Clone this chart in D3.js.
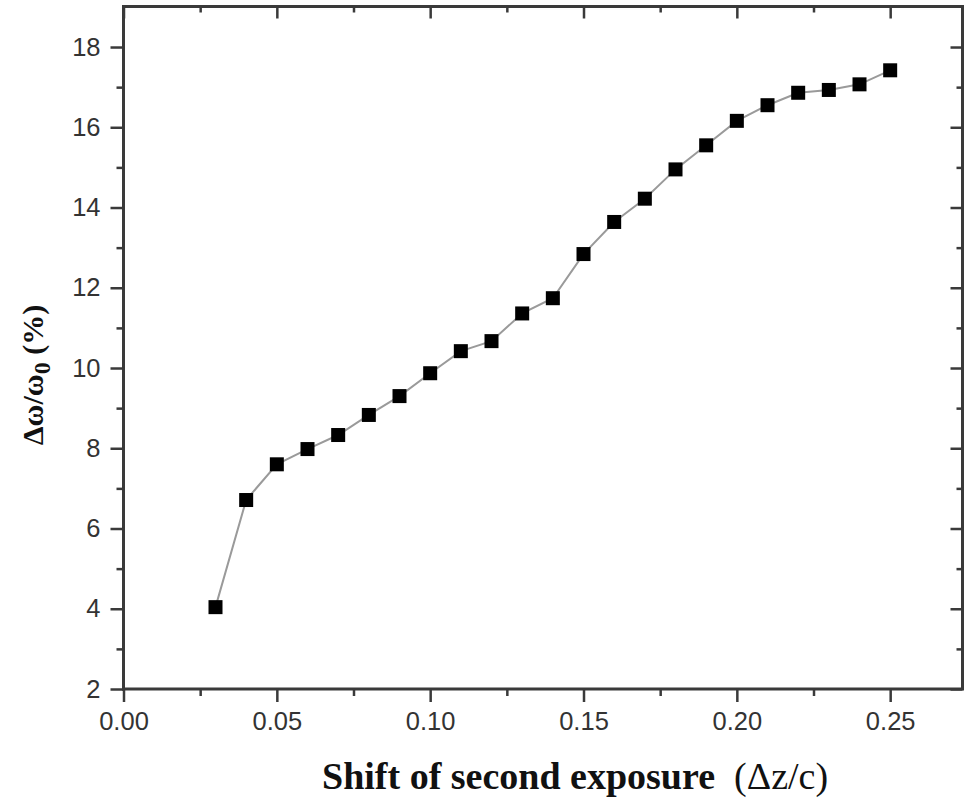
<!DOCTYPE html>
<html>
<head>
<meta charset="utf-8">
<script src="https://cdn.jsdelivr.net/npm/d3@7"></script>
<style>
  html, body { margin: 0; padding: 0; background: #fff; }
  svg { display: block; }
</style>
</head>
<body>
<svg id="chart" width="964" height="804"></svg>
<script>
// ---- data ----
const xValues = [0.03, 0.04, 0.05, 0.06, 0.07, 0.08, 0.09, 0.10, 0.11, 0.12, 0.13, 0.14,
                 0.15, 0.16, 0.17, 0.18, 0.19, 0.20, 0.21, 0.22, 0.23, 0.24, 0.25];
const yValues = [4.04, 6.71, 7.60, 7.98, 8.33, 8.83, 9.30, 9.87, 10.42, 10.67, 11.36, 11.74,
                 12.84, 13.64, 14.22, 14.95, 15.55, 16.16, 16.55, 16.86, 16.93, 17.07, 17.42];
const xTickValues = [0, 0.05, 0.10, 0.15, 0.20, 0.25];
const xMinorTicks = [0.025, 0.075, 0.125, 0.175, 0.225];
const yTickValues = [2, 4, 6, 8, 10, 12, 14, 16, 18];
const yMinorTicks = [3, 5, 7, 9, 11, 13, 15, 17];
const xDomain = [0, 0.2739];
const yDomain = [2, 19.01];

(function () {
const points = xValues.map((x, i) => ({x, y: yValues[i]}));

const svg = d3.select("#chart");
const mLeft = 123.5, mRight = 962.5, mTop = 6.5, mBottom = 689;

const x = d3.scaleLinear().domain(xDomain).range([mLeft, mLeft + (xDomain[1]) * 3066.7]);
const y = d3.scaleLinear().domain(yDomain).range([mBottom, mTop]);

const axisColor = "#3a3a3a";
const tickFont = "'Liberation Sans', Arial, sans-serif";

// frame lines
const frame = svg.append("g").attr("stroke", axisColor).attr("stroke-width", 3).attr("fill", "none");
frame.append("line").attr("x1", mLeft).attr("x2", mLeft).attr("y1", mTop).attr("y2", mBottom + 1.5);
frame.append("line").attr("x1", mLeft - 1.5).attr("x2", 964).attr("y1", mBottom).attr("y2", mBottom);
frame.append("line").attr("x1", mLeft - 1.5).attr("x2", 964).attr("y1", mTop).attr("y2", mTop);
frame.append("line").attr("x1", mRight).attr("x2", mRight).attr("y1", mTop).attr("y2", mBottom);

function styleTicks(g) {
  g.select(".domain").remove();
  g.selectAll(".tick line").attr("stroke", axisColor).attr("stroke-width", 2.5);
}

// bottom axis
const gx = svg.append("g").attr("transform", `translate(0,${mBottom})`)
  .call(d3.axisBottom(x).tickValues(xTickValues).tickSize(13).tickPadding(10).tickFormat(d3.format(".2f")));
styleTicks(gx);
gx.selectAll(".tick text").attr("fill", "#333").attr("font-family", tickFont).attr("font-size", 25.5);
styleTicks(svg.append("g").attr("transform", `translate(0,${mBottom})`)
  .call(d3.axisBottom(x).tickValues(xMinorTicks).tickSize(7).tickFormat("")));

// left axis
const gy = svg.append("g").attr("transform", `translate(${mLeft},0)`)
  .call(d3.axisLeft(y).tickValues(yTickValues).tickSize(13).tickPadding(10).tickFormat(d3.format("d")));
styleTicks(gy);
gy.selectAll(".tick text").attr("fill", "#333").attr("font-family", tickFont).attr("font-size", 25.5);
styleTicks(svg.append("g").attr("transform", `translate(${mLeft},0)`)
  .call(d3.axisLeft(y).tickValues(yMinorTicks).tickSize(7).tickFormat("")));

// top axis (inward ticks)
styleTicks(svg.append("g").attr("transform", `translate(0,${mTop})`)
  .call(d3.axisBottom(x).tickValues(xTickValues).tickSize(12).tickFormat("")));
styleTicks(svg.append("g").attr("transform", `translate(0,${mTop})`)
  .call(d3.axisBottom(x).tickValues(xMinorTicks).tickSize(6).tickFormat("")));

// right axis (inward ticks)
styleTicks(svg.append("g").attr("transform", `translate(${mRight},0)`)
  .call(d3.axisLeft(y).tickValues(yTickValues).tickSize(12).tickFormat("")));
styleTicks(svg.append("g").attr("transform", `translate(${mRight},0)`)
  .call(d3.axisLeft(y).tickValues(yMinorTicks).tickSize(6).tickFormat("")));

// line
const line = d3.line().x(d => x(d.x)).y(d => y(d.y));
svg.append("path").datum(points).attr("d", line)
  .attr("fill", "none").attr("stroke", "#9a9a9a").attr("stroke-width", 2);

// markers
const ms = 14;
svg.append("g").selectAll("rect").data(points).join("rect")
  .attr("x", d => x(d.x) - ms / 2).attr("y", d => y(d.y) - ms / 2)
  .attr("width", ms).attr("height", ms).attr("fill", "#000");

// axis titles
const serif = "'Liberation Serif', 'Times New Roman', serif";
const xt = svg.append("text").attr("x", 322).attr("y", 789)
  .attr("font-family", serif).attr("font-size", 38).attr("fill", "#111");
xt.append("tspan").attr("font-weight", "bold").text("Shift of second exposure");
xt.append("tspan").attr("font-weight", "normal").text("\u00a0\u00a0(\u0394z/c)");

const yt = svg.append("text")
  .attr("transform", "translate(43,375) rotate(-90)")
  .attr("text-anchor", "middle")
  .attr("font-family", serif).attr("font-size", 30).attr("font-weight", "bold").attr("fill", "#111");
yt.append("tspan").text("\u0394\u03c9/\u03c9");
yt.append("tspan").attr("font-size", 24).attr("dy", 7).text("0");
yt.append("tspan").attr("dy", -7).text(" (%)");
})();
</script>
</body>
</html>
